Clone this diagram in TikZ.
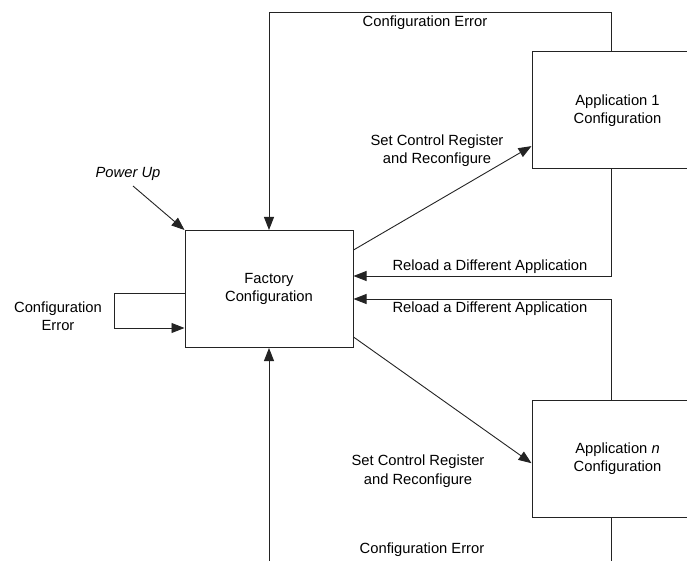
\documentclass[tikz,border=0pt]{standalone}
\usepackage{fontspec}
\setmainfont{Liberation Sans}
\usetikzlibrary{arrows.meta,positioning}
\definecolor{linegray}{RGB}{35,35,35}
\tikzset{
  cfg/.style={rectangle,draw=linegray,line width=1bp,minimum width=168bp,
    minimum height=117bp,align=center,inner sep=0pt},
  arr/.style={-{Triangle[length=13bp,width=10bp]},line width=0.9bp,draw=linegray},
  wire/.style={line width=0.9bp,draw=linegray},
  lbl/.style={align=center,inner sep=0pt}
}

\begin{document}
\begin{tikzpicture}[x=1bp,y=-1bp,font=\fontsize{14.8}{18.5}\selectfont]
    \useasboundingbox (0,0) rectangle (687,561);
    \clip (0,0) rectangle (687,561);
    \node[cfg] (factory) at (269,289) {Factory\\Configuration};
    \node[cfg,minimum width=171bp] (app1) at (617.5,110.5) {Application 1\\Configuration};
    \node[cfg,minimum width=171bp] (appn) at (617.5,458.5) {Application \textit{n}\\Configuration};
    \coordinate (errtop) at (611,12);
    \coordinate (errbot) at (611,570);
    \coordinate (loopl) at (114,0);

    % error paths back to factory
    \draw[arr] (app1.north -| errtop) -- (errtop) -| (factory.north);
    \node[lbl] (errtxt1) at (425,23) {Configuration Error};
    \draw[wire] (appn.south -| errtop) -- (errbot);
    \draw[arr] (factory.south |- errbot) -- (factory.south);
    \node[lbl] (errtxt2) at (422,550) {Configuration Error};

    % reload
    \draw[arr] (app1.south -| errtop) |- ([yshift=13bp]factory.east);
    \node[lbl] (reload1) at (490,267) {Reload a Different Application};
    \draw[arr] (appn.north -| errtop) |- ([yshift=-10bp]factory.east);
    \node[lbl] (reload2) at (490,308.5) {Reload a Different Application};

    % set control register
    \draw[arr] ([yshift=39bp]factory.east) -- ([yshift=-35.6bp]app1.west);
    \node[lbl] (setctl1) at (437,150.5) {Set Control Register\\and Reconfigure};
    \draw[arr] ([yshift=-48bp]factory.east) -- ([yshift=-4.7bp]appn.west);
    \node[lbl] (setctl2) at (418,471) {Set Control Register\\and Reconfigure};

    % power up and self loop
    \node[lbl] (power) at (128,174) {\textit{Power Up}};
    \draw[arr] (133,186) -- (factory.north west);
    \draw[arr] ([yshift=-4bp]factory.west) -| ([yshift=-39bp]factory.west -| loopl)
      -- ([yshift=-39bp]factory.west);
    \node[lbl] (errtxt3) at (58,316) {Configuration\\Error};
  \end{tikzpicture}
\end{document}
